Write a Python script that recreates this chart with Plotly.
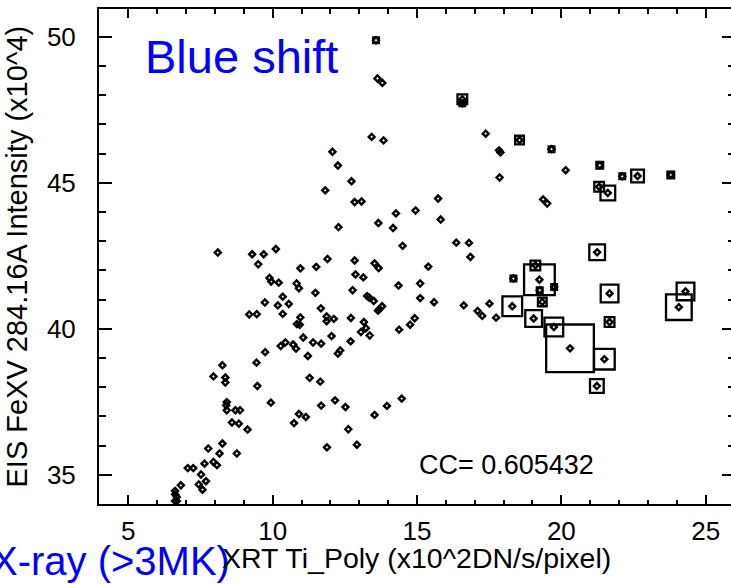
import plotly.graph_objects as go

# XRT Ti_Poly (x10^2 DN/s/pixel)
xrt = [13.58, 13.63, 13.80, 13.43, 13.84, 12.07, 12.26, 12.73, 11.82, 12.84,
       13.08, 14.27, 14.95, 12.28, 13.66, 14.17, 14.50, 8.10, 9.29, 9.69,
       10.11, 9.50, 10.96, 11.51, 11.90, 12.84, 13.53, 13.67, 9.89, 9.95,
       10.21, 10.83, 10.91, 12.87, 13.14, 14.36, 15.11, 10.35, 11.48, 12.77,
       13.27, 13.34, 13.50, 13.79, 13.70, 13.65, 15.11, 9.73, 10.18, 10.56,
       11.67, 9.19, 9.45, 10.35, 10.96, 10.84, 10.94, 11.87, 11.87, 12.12,
       12.71, 13.16, 13.23, 13.06, 13.36, 14.38, 14.76, 14.92, 12.04, 12.70,
       11.06, 11.40, 11.68, 10.28, 10.44, 10.71, 10.81, 9.74, 12.26, 12.34,
       11.22, 9.44, 8.26, 7.95, 8.36, 8.36, 9.47, 11.28, 11.65, 9.94,
       8.41, 8.39, 8.41, 8.71, 8.87, 8.59, 8.83, 9.13, 11.68, 12.16,
       12.52, 10.91, 11.15, 10.74, 12.62, 13.53, 13.96, 14.47, 11.88, 12.92,
       8.26, 7.77, 8.16, 8.76, 7.95, 8.07, 7.64, 7.06, 7.25, 7.52,
       7.44, 7.69, 7.57, 6.82, 6.62, 6.62, 6.68, 6.62, 6.68,
       16.57, 16.57, 17.38, 18.55, 17.84, 17.89, 19.66, 17.86, 20.15, 21.33,
       22.11, 22.64, 23.79, 21.31, 21.61, 19.37, 19.51, 15.73, 15.82, 16.36,
       16.80, 16.85, 15.39, 21.24, 18.34,
       15.59, 16.62, 17.10, 17.26, 17.51, 17.74, 18.30, 19.10, 19.24, 19.25,
       19.75, 19.34, 19.04, 19.74, 20.30, 21.49, 21.23, 21.67, 21.67, 24.30,
       24.07]

# EIS FeXV 284.16A intensity (x10^4)
eis = [49.88, 48.57, 48.42, 46.57, 46.45, 46.06, 45.59, 45.05, 44.74, 44.34,
       44.36, 43.95, 44.05, 43.48, 43.62, 43.45, 42.84, 42.61, 42.55, 42.55,
       42.73, 42.21, 42.07, 42.12, 42.39, 42.34, 42.24, 42.08, 41.74, 41.62,
       41.58, 41.55, 41.39, 41.86, 41.76, 41.48, 41.55, 41.10, 41.23, 41.32,
       41.12, 41.07, 40.95, 40.77, 40.68, 40.62, 41.05, 40.90, 40.80, 40.85,
       40.70, 40.49, 40.50, 40.51, 40.39, 40.16, 40.14, 40.42, 40.26, 40.34,
       40.37, 40.23, 40.02, 39.89, 39.77, 39.97, 40.14, 40.36, 39.75, 39.57,
       39.70, 39.53, 39.49, 39.41, 39.53, 39.46, 39.32, 39.20, 39.15, 39.26,
       39.07, 38.84, 38.75, 38.37, 38.33, 38.16, 38.04, 38.32, 38.19, 37.47,
       37.49, 37.38, 37.21, 37.21, 37.21, 36.79, 36.75, 36.55, 37.37, 37.55,
       37.32, 37.08, 36.98, 36.77, 36.56, 37.05, 37.36, 37.61, 35.94, 36.03,
       36.07, 35.90, 35.73, 35.73, 35.44, 35.33, 35.38, 35.23, 35.23, 35.01,
       34.67, 34.78, 34.49, 34.64, 34.45, 34.33, 34.24, 34.10, 34.10,
       47.86, 47.72, 46.68, 46.46, 46.11, 46.04, 46.15, 45.18, 45.43, 45.60,
       45.22, 45.23, 45.27, 44.86, 44.65, 44.43, 44.29, 44.46, 43.74, 42.95,
       42.94, 42.46, 42.13, 42.62, 41.72,
       40.91, 40.80, 40.61, 40.44, 40.86, 40.38, 40.77, 42.17, 41.68, 41.32,
       41.43, 40.92, 40.35, 40.06, 39.33, 38.96, 38.04, 41.21, 40.23, 41.28,
       40.74]

# Blue-shift box measure per point (0 = no box)
box = [8] + [0] * 128 + [
       12, 8, 0, 11, 0, 0, 8, 0, 0, 9,
       8, 15, 9, 12, 17, 0, 0, 0, 0, 0,
       0, 0, 0, 18, 8,
       0, 0, 0, 0, 0, 0, 22, 12, 33, 8,
       8, 11, 19, 21, 50, 23, 16, 20, 12, 20,
       28]

x_ticks = [5, 10, 15, 20, 25]
y_ticks = [35, 40, 45, 50]
cc_label = "CC= 0.605432"

FONT = "Liberation Sans, Arial, Helvetica, sans-serif"
X_RANGE = [3.985, 25.876]
Y_RANGE = [34.0, 50.95]

bx = [x for x, b in zip(xrt, box) if b]
by = [y for y, b in zip(eis, box) if b]
bs = [b - 2.3 for b in box if b]

fig = go.Figure()
fig.add_trace(go.Scatter(
    x=xrt, y=eis, mode="markers", hoverinfo="skip", showlegend=False,
    marker=dict(symbol="diamond-open", size=4.6, color="black", opacity=1,
                line=dict(width=2.4, color="black"))))
fig.add_trace(go.Scatter(
    x=bx, y=by, mode="markers", hoverinfo="skip", showlegend=False,
    marker=dict(symbol="square-open", size=bs, color="black", opacity=1,
                line=dict(width=2.3, color="black"))))
# helper trace for right-hand tick marks
fig.add_trace(go.Scatter(
    x=xrt[:1], y=eis[:1], yaxis="y2", mode="markers", hoverinfo="skip",
    showlegend=False, marker=dict(opacity=0)))

fig.update_layout(
    width=731, height=584,
    margin=dict(l=99, r=0, t=9, b=80, pad=0),
    paper_bgcolor="white", plot_bgcolor="white",
    font=dict(family=FONT, color="black"),
    showlegend=False,
    xaxis=dict(
        range=X_RANGE, showline=True, linewidth=2, linecolor="black",
        mirror="ticks", ticks="inside", ticklen=9, tickwidth=2, tickcolor="black",
        tickmode="array", tickvals=x_ticks, ticktext=[str(v) for v in x_ticks],
        minor=dict(dtick=1, tick0=0, ticks="inside", ticklen=4.5, tickwidth=2,
                   tickcolor="black", showgrid=False),
        showgrid=False, zeroline=False, tickfont=dict(size=26, family=FONT),
        ticklabelstandoff=3),
    yaxis=dict(
        range=Y_RANGE, showline=True, linewidth=2, linecolor="black",
        mirror=False, ticks="inside", ticklen=13, tickwidth=2, tickcolor="black",
        tickmode="array", tickvals=y_ticks, ticktext=[str(v) for v in y_ticks],
        minor=dict(dtick=1, tick0=0, ticks="inside", ticklen=7, tickwidth=2,
                   tickcolor="black", showgrid=False),
        showgrid=False, zeroline=False, tickfont=dict(size=26, family=FONT),
        ticklabelstandoff=16),
    yaxis2=dict(
        range=Y_RANGE, overlaying="y", side="right", anchor="x",
        showline=False, ticks="inside", ticklen=9, tickwidth=2, tickcolor="black",
        tickmode="array", tickvals=y_ticks, showticklabels=False,
        minor=dict(dtick=1, tick0=0, ticks="inside", ticklen=3, tickwidth=2,
                   tickcolor="black", showgrid=False),
        showgrid=False, zeroline=False),
    annotations=[
        dict(text="Blue shift", x=5.51, y=49.33, xref="x", yref="y",
             xanchor="left", yanchor="middle", showarrow=False,
             font=dict(size=47, color="#0000FF", family=FONT)),
        dict(text=cc_label, x=15.0, y=35.32, xref="x", yref="y",
             xanchor="left", yanchor="middle", showarrow=False,
             font=dict(size=27, color="black", family=FONT)),
        dict(text="X-ray (>3MK)", x=(232 - 99) / 632, y=-0.1145,
             xref="paper", yref="paper", xanchor="right", yanchor="middle",
             showarrow=False, font=dict(size=40, color="#0000FF", family=FONT)),
        dict(text="XRT Ti_Poly (x10^2DN/s/pixel)", x=0.5016, y=-0.11,
             xref="paper", yref="paper", xanchor="center", yanchor="middle",
             showarrow=False, font=dict(size=28.5, color="black", family=FONT)),
        dict(text="EIS FeXV 284.16A Intensity (x10^4)", x=-0.1313, y=0.5,
             xref="paper", yref="paper", xanchor="center", yanchor="middle",
             textangle=-90, showarrow=False,
             font=dict(size=29, color="black", family=FONT)),
    ],
)

fig.write_html("out.html")
